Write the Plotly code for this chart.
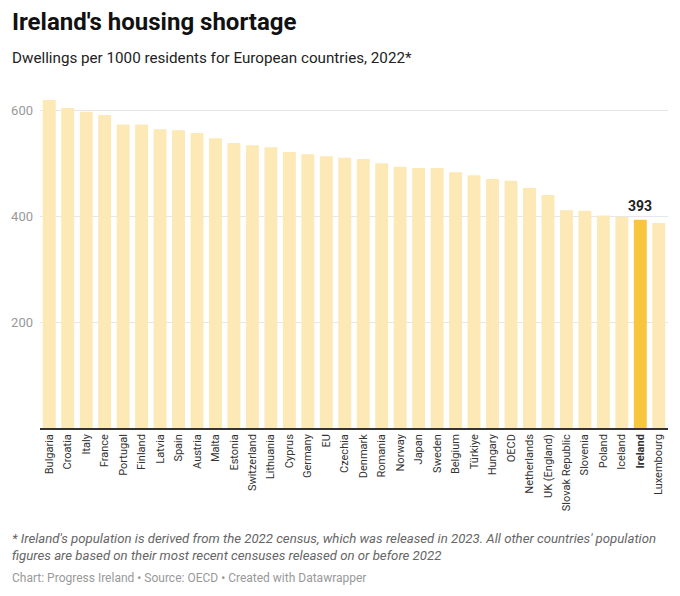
import plotly.graph_objects as go

countries = ["Bulgaria", "Croatia", "Italy", "France", "Portugal", "Finland", "Latvia", "Spain",
             "Austria", "Malta", "Estonia", "Switzerland", "Lithuania", "Cyprus", "Germany", "EU",
             "Czechia", "Denmark", "Romania", "Norway", "Japan", "Sweden", "Belgium", "Türkiye",
             "Hungary", "OECD", "Netherlands", "UK (England)", "Slovak Republic", "Slovenia",
             "Poland", "Iceland", "Ireland", "Luxembourg"]
dwellings = [619, 604, 597, 591, 573, 573, 564, 562, 557, 547, 538, 534, 530, 521, 517, 513,
             510, 508, 500, 493, 491, 491, 483, 477, 470, 467, 453, 440, 411, 410, 401, 399,
             393, 387]
highlight = "Ireland"
y_ticks = [200, 400, 600]

FONT = "Roboto"
base_col = "#fde9b6"
hi_col = "#f9c53d"

colors = [hi_col if c == highlight else base_col for c in countries]
tick_text = [f"<b>{c}</b>" if c == highlight else c for c in countries]

fig = go.Figure()
fig.add_trace(go.Bar(
    x=countries, y=dwellings, marker=dict(color=colors, line=dict(width=0)),
    hoverinfo="x+y",
))

hi_idx = countries.index(highlight)
fig.add_annotation(
    x=countries[hi_idx], y=dwellings[hi_idx], text=f"<b>{dwellings[hi_idx]}</b>",
    showarrow=False, yanchor="bottom", yshift=4,
    font=dict(family=FONT, size=14, color="#222"),
)

fig.update_layout(
    width=680, height=596,
    margin=dict(l=40, r=12, t=89, b=168),
    paper_bgcolor="white", plot_bgcolor="white",
    bargap=0.3,
    showlegend=False,
    font=dict(family=FONT),
    xaxis=dict(
        tickmode="array", tickvals=countries, ticktext=tick_text,
        tickangle=-90, tickfont=dict(family=FONT, size=11, color="#333"),
        showline=True, linecolor="#333", linewidth=1.5,
        showgrid=False, ticks="", range=[-0.5, len(countries) - 0.5],
    ),
    yaxis=dict(
        range=[0, 640], tickvals=y_ticks, ticktext=[str(v) for v in y_ticks],
        tickfont=dict(family=FONT, size=13, color="#999"),
        showgrid=True, gridcolor="#e6e6e6", gridwidth=1,
        zeroline=False, ticks="", ticklabelstandoff=6,
    ),
)

fig.add_annotation(
    xref="paper", yref="paper", x=-40/628, y=1 + 89/339, xanchor="left", yanchor="top",
    text="<b>Ireland's housing shortage</b>", showarrow=False, yshift=-6,
    font=dict(family=FONT, size=24, color="#111"), xshift=10,
)
fig.add_annotation(
    xref="paper", yref="paper", x=-40/628, y=1 + 89/339, xanchor="left", yanchor="top",
    text="Dwellings per 1000 residents for European countries, 2022*", showarrow=False,
    yshift=-47, xshift=10,
    font=dict(family=FONT, size=15.2, color="#222"),
)
fig.add_annotation(
    xref="paper", yref="paper", x=-40/628, y=0, xanchor="left", yanchor="top", align="left",
    text="<i>* Ireland's population is derived from the 2022 census, which was released in 2023. All other countries' population<br>figures are based on their most recent censuses released on or before 2022</i>",
    showarrow=False, yshift=-101, xshift=10,
    font=dict(family=FONT, size=13.2, color="#666"),
)
fig.add_annotation(
    xref="paper", yref="paper", x=-40/628, y=0, xanchor="left", yanchor="top",
    text="Chart: Progress Ireland • Source: OECD • Created with Datawrapper",
    showarrow=False, yshift=-141, xshift=10,
    font=dict(family=FONT, size=12, color="#999"),
)

fig.write_html("out.html", config={"displayModeBar": False},
               post_script="document.body.style.margin='0';")
